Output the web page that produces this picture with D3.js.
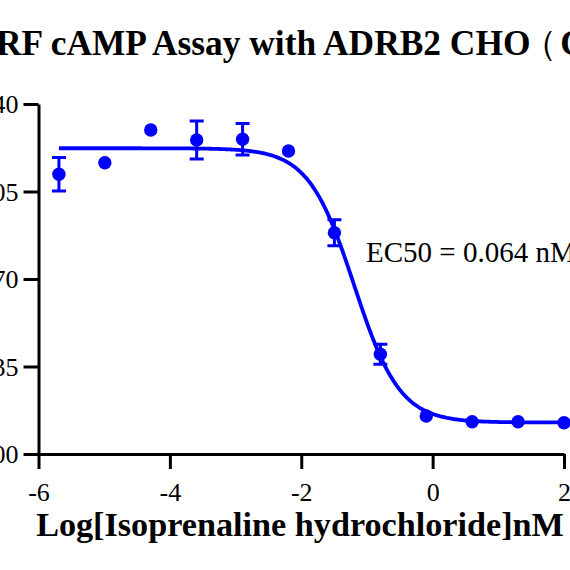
<!DOCTYPE html>
<html>
<head>
<meta charset="utf-8">
<script src="https://cdn.jsdelivr.net/npm/d3@7"></script>
<style>
  html, body { margin: 0; padding: 0; background: #fff; overflow: hidden; }
  svg { display: block; }
</style>
</head>
<body>
<div id="chart"></div>
<script>
/*****************************************************
 * HTRF cAMP dose-response (crop of a larger figure)
 *****************************************************/
// log10 concentration (nM), 5-fold dilution
const logConc = [-5.689, -4.990, -4.291, -3.592, -2.893, -2.194, -1.495, -0.796, -0.097, 0.602, 1.301, 2.000];
// mean signal
const meanVals = [211.9, 216.5, 229.6, 225.6, 225.9, 221.2, 188.5, 139.9, 115.2, 112.9, 112.9, 112.5];
// error (SD), 0 = hidden under the marker
const errVals = [6.7, 0, 0, 7.6, 6.3, 0, 5.2, 4.0, 0, 0, 0, 0];
// fitted 4PL parameters
const fitTop = 222.3;
const fitBottom = 112.6;
const fitLogEC50 = -1.194;
const fitHill = 1.25;
// axes
const xTicks = [-6, -4, -2, 0, 2];
const yTicks = [100, 135, 170, 205, 240];

const titleMain = "HTRF cAMP Assay with ADRB2 CHO";
const titleParen = "（";
const titleRest = " Cells）";
const xLabel = "Log[Isoprenaline hydrochloride]nM";
const ec50Text = "EC50 = 0.064 nM";

const width = 570;
const height = 570;
const blue = "#0000ff";
const font = "'Liberation Serif', 'Times New Roman', serif";

const svg = d3.select("#chart")
  .append("svg")
  .attr("width", width)
  .attr("height", height);

const x = d3.scaleLinear().domain([-6, 2]).range([38.5, 564]);
const y = d3.scaleLinear().domain([100, 240]).range([454, 104]);

// axes
const xAxis = svg.append("g")
  .attr("transform", `translate(0,${y(100)})`)
  .call(d3.axisBottom(x).tickValues(xTicks).tickSize(15).tickSizeOuter(0).tickFormat(d => String(d)));
const yAxis = svg.append("g")
  .attr("transform", `translate(${x(-6)},0)`)
  .call(d3.axisLeft(y).tickValues(yTicks).tickSize(15).tickPadding(5).tickSizeOuter(0).tickFormat(d => String(d)));

[xAxis, yAxis].forEach(g => {
  g.select(".domain").attr("stroke", "#000").attr("stroke-width", 3);
  g.selectAll(".tick line").attr("stroke", "#000").attr("stroke-width", 3);
  g.selectAll(".tick text")
    .attr("fill", "#000")
    .style("font-family", font)
    .style("font-size", "26px");
});
xAxis.selectAll(".tick text").attr("y", 47).attr("dy", 0);
yAxis.selectAll(".tick text").attr("dy", "0.34em");

// fitted curve
function fourPL(v) {
  return fitBottom + (fitTop - fitBottom) / (1 + Math.pow(10, (v - fitLogEC50) * fitHill));
}
const curveX = d3.range(0, 401).map(i => logConc[0] + (2.02 - logConc[0]) * i / 400);
svg.append("path")
  .datum(curveX)
  .attr("fill", "none")
  .attr("stroke", blue)
  .attr("stroke-width", 3.8)
  .attr("d", d3.line().x(d => x(d)).y(d => y(fourPL(d))));

// error bars
const pts = logConc.map((v, i) => ({ lx: v, m: meanVals[i], e: errVals[i] }));
const eb = svg.append("g")
  .attr("stroke", blue)
  .attr("stroke-width", 3)
  .selectAll("g")
  .data(pts.filter(p => p.e > 0))
  .enter()
  .append("g");
eb.append("line")
  .attr("x1", d => x(d.lx)).attr("x2", d => x(d.lx))
  .attr("y1", d => y(d.m + d.e)).attr("y2", d => y(d.m - d.e));
eb.append("line")
  .attr("x1", d => x(d.lx) - 7).attr("x2", d => x(d.lx) + 7)
  .attr("y1", d => y(d.m + d.e)).attr("y2", d => y(d.m + d.e));
eb.append("line")
  .attr("x1", d => x(d.lx) - 7).attr("x2", d => x(d.lx) + 7)
  .attr("y1", d => y(d.m - d.e)).attr("y2", d => y(d.m - d.e));

// points
svg.append("g")
  .selectAll("circle")
  .data(pts)
  .enter()
  .append("circle")
  .attr("cx", d => x(d.lx))
  .attr("cy", d => y(d.m))
  .attr("r", 6.7)
  .attr("fill", blue);

// EC50 note
svg.append("text")
  .attr("x", 366)
  .attr("y", 262)
  .style("font-family", font)
  .style("font-size", "29px")
  .text(ec50Text);

// x label
svg.append("text")
  .attr("x", 300)
  .attr("y", 536)
  .attr("text-anchor", "middle")
  .style("font-family", font)
  .style("font-size", "34.2px")
  .style("font-weight", "bold")
  .text(xLabel);

// title: the "HT" falls off the left edge
const title = svg.append("text")
  .attr("y", 55)
  .style("font-family", font)
  .style("font-size", "35.4px")
  .style("font-weight", "bold");
title.append("tspan").text(titleMain);
title.append("tspan").attr("dx", -8).style("font-weight", "normal").text(titleParen);
title.append("tspan").attr("dx", -6).text(titleRest);
const probe = svg.append("text")
  .style("font-family", font)
  .style("font-size", "35.4px")
  .style("font-weight", "bold")
  .text("HT");
const htWidth = probe.node().getComputedTextLength();
probe.remove();
title.attr("x", -4 - htWidth);
</script>
</body>
</html>
